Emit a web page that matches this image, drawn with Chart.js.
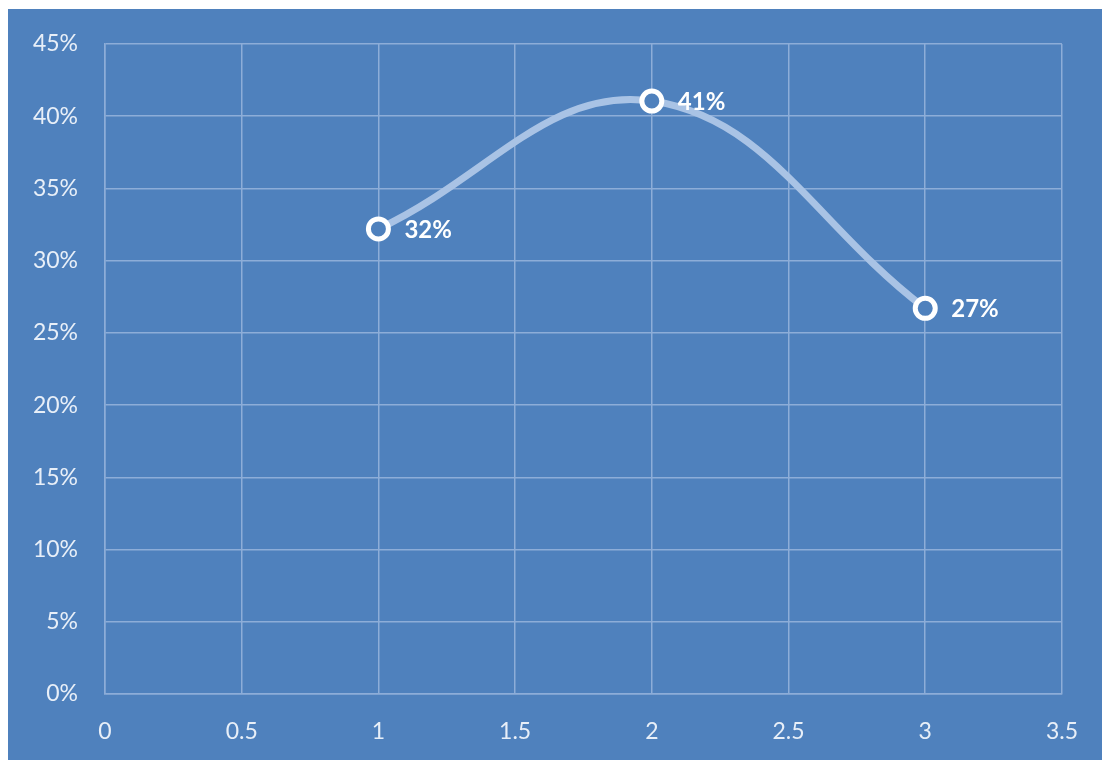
<!DOCTYPE html>
<html>
<head>
<meta charset="utf-8">
<script src="https://cdn.jsdelivr.net/npm/chart.js@4"></script>
<style>
  html, body { margin: 0; padding: 0; background: #ffffff; }
  #wrap { position: relative; width: 1102px; height: 761px; }
</style>
</head>
<body>
<div id="wrap"><canvas id="chart" width="1102" height="761"></canvas></div>
<script>
// data
const xValues = [1, 2, 3];
const yValues = [0.322, 0.4105, 0.267];
const xTicks = [0, 0.5, 1, 1.5, 2, 2.5, 3, 3.5];
const yTicks = [0, 0.05, 0.10, 0.15, 0.20, 0.25, 0.30, 0.35, 0.40, 0.45];

const bgBlue = '#4f81bd';
const gridColor = '#8dadd8';
const tickColor = '#e8eff8';
const fontName = 'Lato, "Open Sans", sans-serif';

// blue panel behind the chart
const panelBackground = {
    id: 'panelBackground',
    beforeDraw(chart) {
        const ctx = chart.ctx;
        ctx.save();
        ctx.fillStyle = bgBlue;
        ctx.fillRect(8, 9, chart.width - 8, chart.height - 10);
        ctx.restore();
    }
};

// percent labels to the right of each point
const pointLabels = {
    id: 'pointLabels',
    afterDatasetsDraw(chart) {
        const ctx = chart.ctx;
        const meta = chart.getDatasetMeta(0);
        ctx.save();
        ctx.font = 'bold 24px ' + fontName;
        ctx.fillStyle = '#ffffff';
        ctx.textAlign = 'left';
        ctx.textBaseline = 'middle';
        meta.data.forEach((pt, i) => {
            const txt = Math.round(yValues[i] * 100) + '%';
            ctx.fillText(txt, pt.x + 26, pt.y + 1);
        });
        ctx.restore();
    }
};

const points = xValues.map((x, i) => ({ x: x, y: yValues[i] }));

new Chart(document.getElementById('chart').getContext('2d'), {
    type: 'scatter',
    data: {
        datasets: [{
            data: points,
            showLine: true,
            tension: 0.4,
            borderColor: '#a9c3e5',
            borderWidth: 7,
            pointRadius: 10,
            pointHoverRadius: 10,
            pointBorderWidth: 5,
            pointBorderColor: '#ffffff',
            pointBackgroundColor: bgBlue
        }]
    },
    options: {
        responsive: false,
        animation: false,
        events: [],
        layout: { padding: { top: 44, right: 39, left: 0, bottom: 0 } },
        plugins: {
            legend: { display: false },
            tooltip: { enabled: false }
        },
        scales: {
            x: {
                type: 'linear',
                min: 0,
                max: 3.5,
                afterBuildTicks(scale) { scale.ticks = xTicks.map(v => ({ value: v })); },
                afterFit(scale) { scale.height = 67; },
                grid: { color: gridColor, lineWidth: 1.5, drawTicks: false },
                border: { color: gridColor, width: 1.5 },
                ticks: {
                    color: tickColor,
                    padding: 24,
                    maxRotation: 0,
                    font: { family: fontName, size: 23 },
                    callback: v => String(v)
                }
            },
            y: {
                min: 0,
                max: 0.45,
                afterBuildTicks(scale) { scale.ticks = yTicks.map(v => ({ value: v })); },
                afterFit(scale) { scale.width = 105; },
                grid: { color: gridColor, lineWidth: 1.5, drawTicks: false },
                border: { color: gridColor, width: 1.5 },
                ticks: {
                    color: tickColor,
                    padding: 27,
                    font: { family: fontName, size: 23 },
                    callback: v => Math.round(v * 100) + '%'
                }
            }
        }
    },
    plugins: [panelBackground, pointLabels]
});
</script>
</body>
</html>
